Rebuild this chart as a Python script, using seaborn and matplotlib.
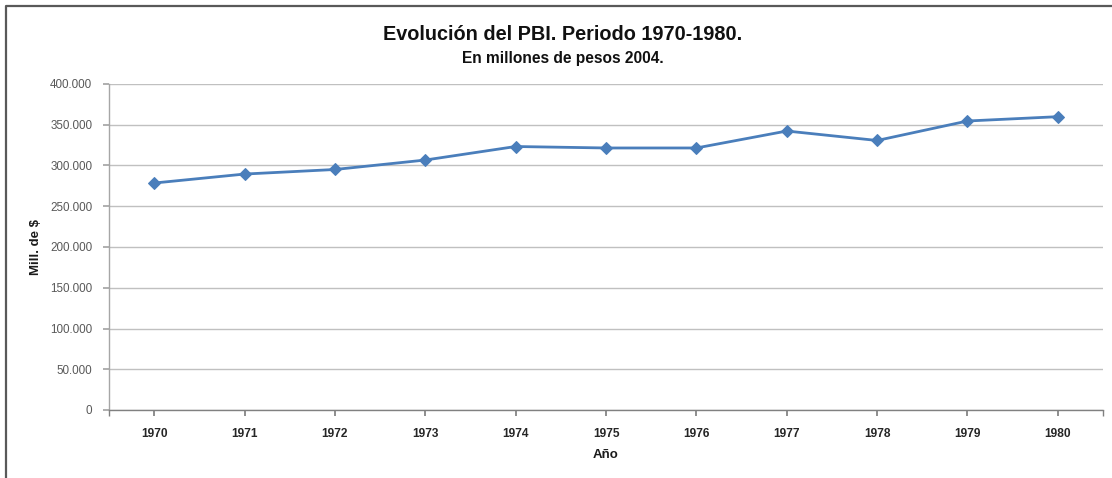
import matplotlib
matplotlib.use('Agg')

import matplotlib.pyplot as plt
from matplotlib.lines import Line2D
from matplotlib.ticker import FuncFormatter
import pandas as pd
import seaborn as sns

# datos (millones de pesos 2004)
years = [1970, 1971, 1972, 1973, 1974, 1975, 1976, 1977, 1978, 1979, 1980]
pbi = [278500, 289500, 295100, 306700, 323300, 321500, 321500, 342300, 330700, 354600, 359900]
y_ticks = [0, 50000, 100000, 150000, 200000, 250000, 300000, 350000, 400000]

df = pd.DataFrame({'Año': years, 'PBI': pbi})

sns.set_theme(style='white')
plt.rcParams['font.family'] = ['Liberation Sans', 'DejaVu Sans']

fig = plt.figure(figsize=(11.12, 4.78), dpi=100)
ax = fig.add_axes([109 / 1112, 1 - 410 / 478, 994 / 1112, 326 / 478])

sns.lineplot(data=df, x='Año', y='PBI', ax=ax, color='#4A7EBB', linewidth=2.0,
             marker='D', markersize=6.5, markeredgecolor='#4A7EBB')

ax.set_xlim(1969.5, 1980.5)
ax.set_ylim(0, 400000)
ax.set_xticks(years)
ax.set_xticks([1969.5, 1980.5], minor=True)
ax.set_yticks(y_ticks)
ax.yaxis.set_major_formatter(FuncFormatter(lambda v, p: f'{v:,.0f}'.replace(',', '.')))

ax.grid(axis='y', color='#C0C0C0', linewidth=1.0)
ax.set_axisbelow(True)
for s in ['top', 'right']:
    ax.spines[s].set_visible(False)
ax.spines['left'].set_color('#A6A6A6')
ax.spines['bottom'].set_color('#808080')
ax.spines['left'].set_linewidth(1.0)
ax.spines['bottom'].set_linewidth(1.0)

ax.tick_params(axis='y', which='major', direction='out', length=4, color='#A6A6A6',
               labelsize=8.4, labelcolor='#595959', pad=8, left=True)
ax.tick_params(axis='x', which='both', direction='out', length=4, color='#808080',
               bottom=True, pad=9)
ax.tick_params(axis='x', which='major', labelsize=8.6)
for lbl in ax.get_xticklabels():
    lbl.set_fontweight('bold')
    lbl.set_color('#262626')

ax.set_xlabel('Año', fontsize=9.5, fontweight='bold', color='#1a1a1a')
ax.set_ylabel('Mill. de $', fontsize=9.5, fontweight='bold', color='#1a1a1a')
ax.xaxis.set_label_coords(0.5, (410 - 449) / 326)
ax.yaxis.set_label_coords((42 - 109) / 994, 0.5)

fig.text(563 / 1112, 1 - 35 / 478, 'Evolución del PBI. Periodo 1970-1980.',
         ha='center', va='center', fontsize=14.3, fontweight='bold', color='#111111')
fig.text(563 / 1112, 1 - 58 / 478, 'En millones de pesos 2004.',
         ha='center', va='center', fontsize=11.2, fontweight='bold', color='#111111')

# marco del gráfico (sólo izquierda y arriba visibles)
x0, y0 = 6 / 1112, 1 - 6 / 478
fig.add_artist(Line2D([x0, x0, 1], [0, y0, y0], transform=fig.transFigure,
                      color='#595959', linewidth=1.6))

fig.savefig('out.png', dpi=100)
